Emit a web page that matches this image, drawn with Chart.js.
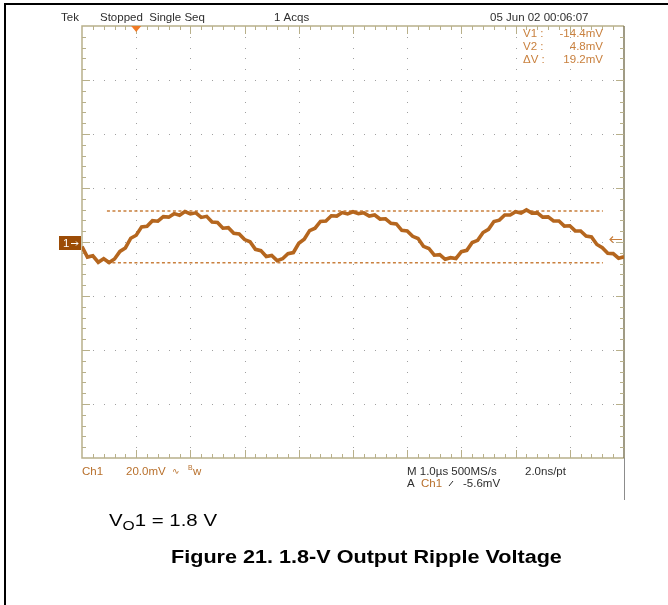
<!DOCTYPE html>
<html><head><meta charset="utf-8">
<script src="https://cdn.jsdelivr.net/npm/chart.js@4.4.1/dist/chart.umd.min.js"></script>
<style>
html,body{margin:0;padding:0;background:#fff;}
#wrap{position:relative;width:668px;height:605px;overflow:hidden;background:#fff;}
canvas{position:absolute;left:0;top:0;}
.cap{position:absolute;font-family:"Liberation Sans",Arial,sans-serif;color:#000;white-space:nowrap;transform-origin:0 0;transform:scaleX(1.2);}
</style></head><body>
<div id="wrap">
<canvas id="c" width="668" height="605"></canvas>
<div class="cap" style="left:109px;top:512px;font-size:17px;line-height:17px;">V<span style="font-size:13px;position:relative;top:4px;">O</span>1 = 1.8 V</div>
<div class="cap" style="left:171px;top:548px;font-size:18px;line-height:18px;font-weight:bold;">Figure 21. 1.8-V Output Ripple Voltage</div>
</div>
<script>
const timeUs = [0.0,0.1,0.2,0.3,0.4,0.5,0.6,0.7,0.8,0.9,1.0,1.1,1.2,1.3,1.4,1.5,1.6,1.7,1.8,1.9,
  2.0,2.1,2.2,2.3,2.4,2.5,2.6,2.7,2.8,2.9,3.0,3.1,3.2,3.3,3.4,3.5,3.6,3.7,3.8,3.9,
  4.0,4.1,4.2,4.3,4.4,4.5,4.6,4.7,4.8,4.9,5.0,5.1,5.2,5.3,5.4,5.5,5.6,5.7,5.8,5.9,
  6.0,6.1,6.2,6.3,6.4,6.5,6.6,6.7,6.8,6.9,7.0,7.1,7.2,7.3,7.4,7.5,7.6,7.7,7.8,7.9,
  8.0,8.1,8.2,8.3,8.4,8.5,8.6,8.7,8.8,8.9,9.0,9.1,9.2,9.3,9.4,9.5,9.6,9.7,9.8,9.9,10.0];
const ch1mV = [-8.4,-12.3,-11.8,-14.2,-12.9,-14.3,-13.0,-10.2,-8.9,-5.3,
  -4.2,-1.1,-0.9,1.2,1.0,2.7,2.5,3.8,3.2,4.6,
  3.7,4.1,2.4,2.8,0.7,0.5,-1.6,-1.4,-3.5,-3.7,
  -5.8,-6.6,-9.4,-9.9,-12.1,-11.7,-13.6,-12.9,-11.0,-10.6,
  -7.2,-5.7,-2.5,-1.6,0.9,1.1,3.0,2.9,4.2,3.7,
  4.5,3.8,4.1,2.9,3.3,1.8,1.9,0.2,0.0,-2.4,
  -2.6,-4.6,-5.4,-8.3,-9.1,-11.6,-11.4,-13.1,-12.5,-12.8,
  -10.3,-9.8,-6.9,-6.1,-3.2,-2.0,0.9,1.4,3.3,3.3,
  4.5,4.0,5.2,4.0,4.1,2.5,2.6,1.1,1.1,-0.8,
  -0.7,-2.6,-2.6,-4.5,-4.8,-7.6,-8.8,-10.9,-11.0,-12.7,-12.2];
const cursorLabels = ["V1", "V2"];
const cursorLevelsMV = [-14.4, 4.8];
const cursorSpanUs = [0.46, 9.61];
const triggerLevelMV = -5.6;
const triggerTimeUs = 1.0;
const xRangeUs = [0, 10];      // 1.0 µs/div, 10 div
const yRangeMV = [-86.7, 73.3]; // 20.0 mV/div, 8 div

const TRACE = '#b5661e', CURS = '#c9803e', FRAME = '#b8b08a', DOT = '#a0a0a0';
const FONT = '11.5px "Liberation Sans", Arial, sans-serif';

const scopePlugin = {
  id: 'scope',
  beforeDatasetsDraw(chart) {
    const ctx = chart.ctx, xs = chart.scales.x, ys = chart.scales.y, a = chart.chartArea;
    ctx.save();
    // outer page border
    ctx.strokeStyle = '#000'; ctx.lineWidth = 2;
    ctx.beginPath(); ctx.moveTo(5, 605); ctx.lineTo(5, 4); ctx.lineTo(668, 4); ctx.stroke();
    // grid dots
    ctx.fillStyle = DOT;
    for (let d = xRangeUs[0] + 1; d < xRangeUs[1]; d++) {
      const x = Math.round(xs.getPixelForValue(d));
      for (let v = yRangeMV[1] - 4; v > yRangeMV[0] + 0.5; v -= 4) {
        ctx.fillRect(x, Math.round(ys.getPixelForValue(v)), 1, 1);
      }
    }
    for (let v = yRangeMV[1] - 20; v > yRangeMV[0] + 0.5; v -= 20) {
      const y = Math.round(ys.getPixelForValue(v));
      for (let t = xRangeUs[0] + 0.2; t < xRangeUs[1] - 0.05; t += 0.2) {
        ctx.fillRect(Math.round(xs.getPixelForValue(t)), y, 1, 1);
      }
    }
    // frame
    ctx.strokeStyle = FRAME; ctx.lineWidth = 1.5;
    ctx.beginPath();
    ctx.moveTo(a.right, a.top); ctx.lineTo(a.left, a.top); ctx.lineTo(a.left, a.bottom); ctx.lineTo(a.right, a.bottom);
    ctx.stroke();
    ctx.strokeStyle = '#807a5c';
    ctx.beginPath(); ctx.moveTo(a.right, a.top); ctx.lineTo(a.right, a.bottom); ctx.stroke();
    ctx.strokeStyle = '#8c8c8c'; ctx.lineWidth = 1;
    ctx.beginPath(); ctx.moveTo(a.right + 0.5, a.bottom); ctx.lineTo(a.right + 0.5, 500); ctx.stroke();
    // frame ticks
    ctx.strokeStyle = FRAME; ctx.lineWidth = 1;
    ctx.beginPath();
    let k = 0;
    for (let t = xRangeUs[0] + 0.2; t < xRangeUs[1] - 0.05; t += 0.2) {
      k++;
      const x = Math.round(xs.getPixelForValue(t)) + 0.5;
      const len = (k % 5 === 0) ? 8 : 4;
      ctx.moveTo(x, a.top); ctx.lineTo(x, a.top + len);
      ctx.moveTo(x, a.bottom); ctx.lineTo(x, a.bottom - len);
    }
    k = 0;
    for (let v = yRangeMV[1] - 4; v > yRangeMV[0] + 0.5; v -= 4) {
      k++;
      const y = Math.round(ys.getPixelForValue(v)) + 0.5;
      const len = (k % 5 === 0) ? 8 : 4;
      ctx.moveTo(a.left, y); ctx.lineTo(a.left + len, y);
      ctx.moveTo(a.right, y); ctx.lineTo(a.right - len, y);
    }
    ctx.stroke();
    ctx.restore();
  },
  afterDatasetsDraw(chart) {
    const ctx = chart.ctx, xs = chart.scales.x, ys = chart.scales.y, a = chart.chartArea;
    ctx.save();
    // trigger position marker
    const tx = xs.getPixelForValue(triggerTimeUs);
    ctx.fillStyle = '#f07a24';
    ctx.beginPath(); ctx.moveTo(tx - 5, a.top); ctx.lineTo(tx + 5, a.top); ctx.lineTo(tx, a.top + 6); ctx.closePath(); ctx.fill();
    // ch1 ground marker
    const gy = (a.top + a.bottom) / 2 + 1;
    ctx.fillStyle = '#9c4c06';
    ctx.fillRect(59, gy - 7, 22, 14);
    ctx.fillStyle = '#fff'; ctx.font = FONT; ctx.textBaseline = 'alphabetic';
    ctx.fillText('1', 63, gy + 4);
    ctx.strokeStyle = '#fff'; ctx.lineWidth = 1;
    ctx.beginPath(); ctx.moveTo(71, gy + 0.5); ctx.lineTo(78, gy + 0.5);
    ctx.moveTo(76, gy - 1.5); ctx.lineTo(78, gy + 0.5); ctx.lineTo(76, gy + 2.5); ctx.stroke();
    // trigger level arrow (right)
    const ty = Math.round(ys.getPixelForValue(triggerLevelMV)) + 0.5;
    ctx.strokeStyle = CURS; ctx.lineWidth = 1.2;
    ctx.beginPath(); ctx.moveTo(610, ty); ctx.lineTo(622, ty);
    ctx.moveTo(613, ty - 3); ctx.lineTo(610, ty); ctx.lineTo(613, ty + 3); ctx.stroke();
    ctx.restore();
  },
  afterDraw(chart) {
    const ctx = chart.ctx;
    ctx.save();
    ctx.font = FONT; ctx.textBaseline = 'alphabetic'; ctx.textAlign = 'left';
    ctx.fillStyle = '#2e2e2e';
    ctx.fillText('Tek', 61, 21);
    ctx.fillText('Stopped  Single Seq', 100, 21);
    ctx.fillText('1 Acqs', 274, 21);
    ctx.fillText('05 Jun 02 00:06:07', 490, 21);
    // cursor readout
    ctx.fillStyle = CURS;
    const dV = cursorLevelsMV[1] - cursorLevelsMV[0];
    const rows = [[cursorLabels[0] + ' :', cursorLevelsMV[0].toFixed(1) + 'mV', 37],
                  [cursorLabels[1] + ' :', cursorLevelsMV[1].toFixed(1) + 'mV', 50],
                  ['\u0394V :', dV.toFixed(1) + 'mV', 63]];
    rows.forEach(r => {
      ctx.textAlign = 'left'; ctx.fillText(r[0], 523, r[2]);
      ctx.textAlign = 'right'; ctx.fillText(r[1], 603, r[2]);
    });
    ctx.textAlign = 'left';
    // bottom status
    ctx.fillStyle = '#b8702c';
    ctx.fillText('Ch1', 82, 475);
    ctx.fillText('20.0mV', 126, 475);
    ctx.font = '9px "DejaVu Sans", sans-serif';
    ctx.fillText('\u223F', 172, 474);
    ctx.font = '7px "Liberation Sans", Arial, sans-serif';
    ctx.fillText('B', 188, 470);
    ctx.font = FONT;
    ctx.fillText('w', 193, 475);
    ctx.fillStyle = '#2e2e2e';
    ctx.fillText('M 1.0\u00B5s 500MS/s', 407, 475);
    ctx.fillText('2.0ns/pt', 525, 475);
    ctx.fillText('A', 407, 487);
    ctx.fillStyle = '#b8702c';
    ctx.fillText('Ch1', 421, 487);
    ctx.fillStyle = '#2e2e2e';
    ctx.strokeStyle = '#2e2e2e'; ctx.lineWidth = 1;
    ctx.beginPath(); ctx.moveTo(449, 486); ctx.lineTo(453, 481); ctx.stroke();
    ctx.fillText(triggerLevelMV.toFixed(1) + 'mV', 463, 487);
    ctx.restore();
  }
};

const cursorSets = cursorLevelsMV.map(v => ({
  data: [{x: cursorSpanUs[0], y: v}, {x: cursorSpanUs[1], y: v}],
  borderColor: CURS, borderWidth: 1.5, borderDash: [3, 2.5], pointRadius: 0, tension: 0
}));

new Chart(document.getElementById('c'), {
  type: 'line',
  data: {
    datasets: [
      {data: timeUs.map((t, i) => ({x: t, y: ch1mV[i]})), borderColor: TRACE, borderWidth: 3.6,
       pointRadius: 0, tension: 0, borderJoinStyle: 'miter'},
      ...cursorSets
    ]
  },
  options: {
    responsive: false, animation: false, events: [],
    layout: {padding: {left: 82, top: 26, right: 44, bottom: 147}},
    plugins: {legend: {display: false}, tooltip: {enabled: false}},
    scales: {
      x: {type: 'linear', min: xRangeUs[0], max: xRangeUs[1], display: false},
      y: {type: 'linear', min: yRangeMV[0], max: yRangeMV[1], display: false}
    }
  },
  plugins: [scopePlugin]
});
</script>
</body></html>
